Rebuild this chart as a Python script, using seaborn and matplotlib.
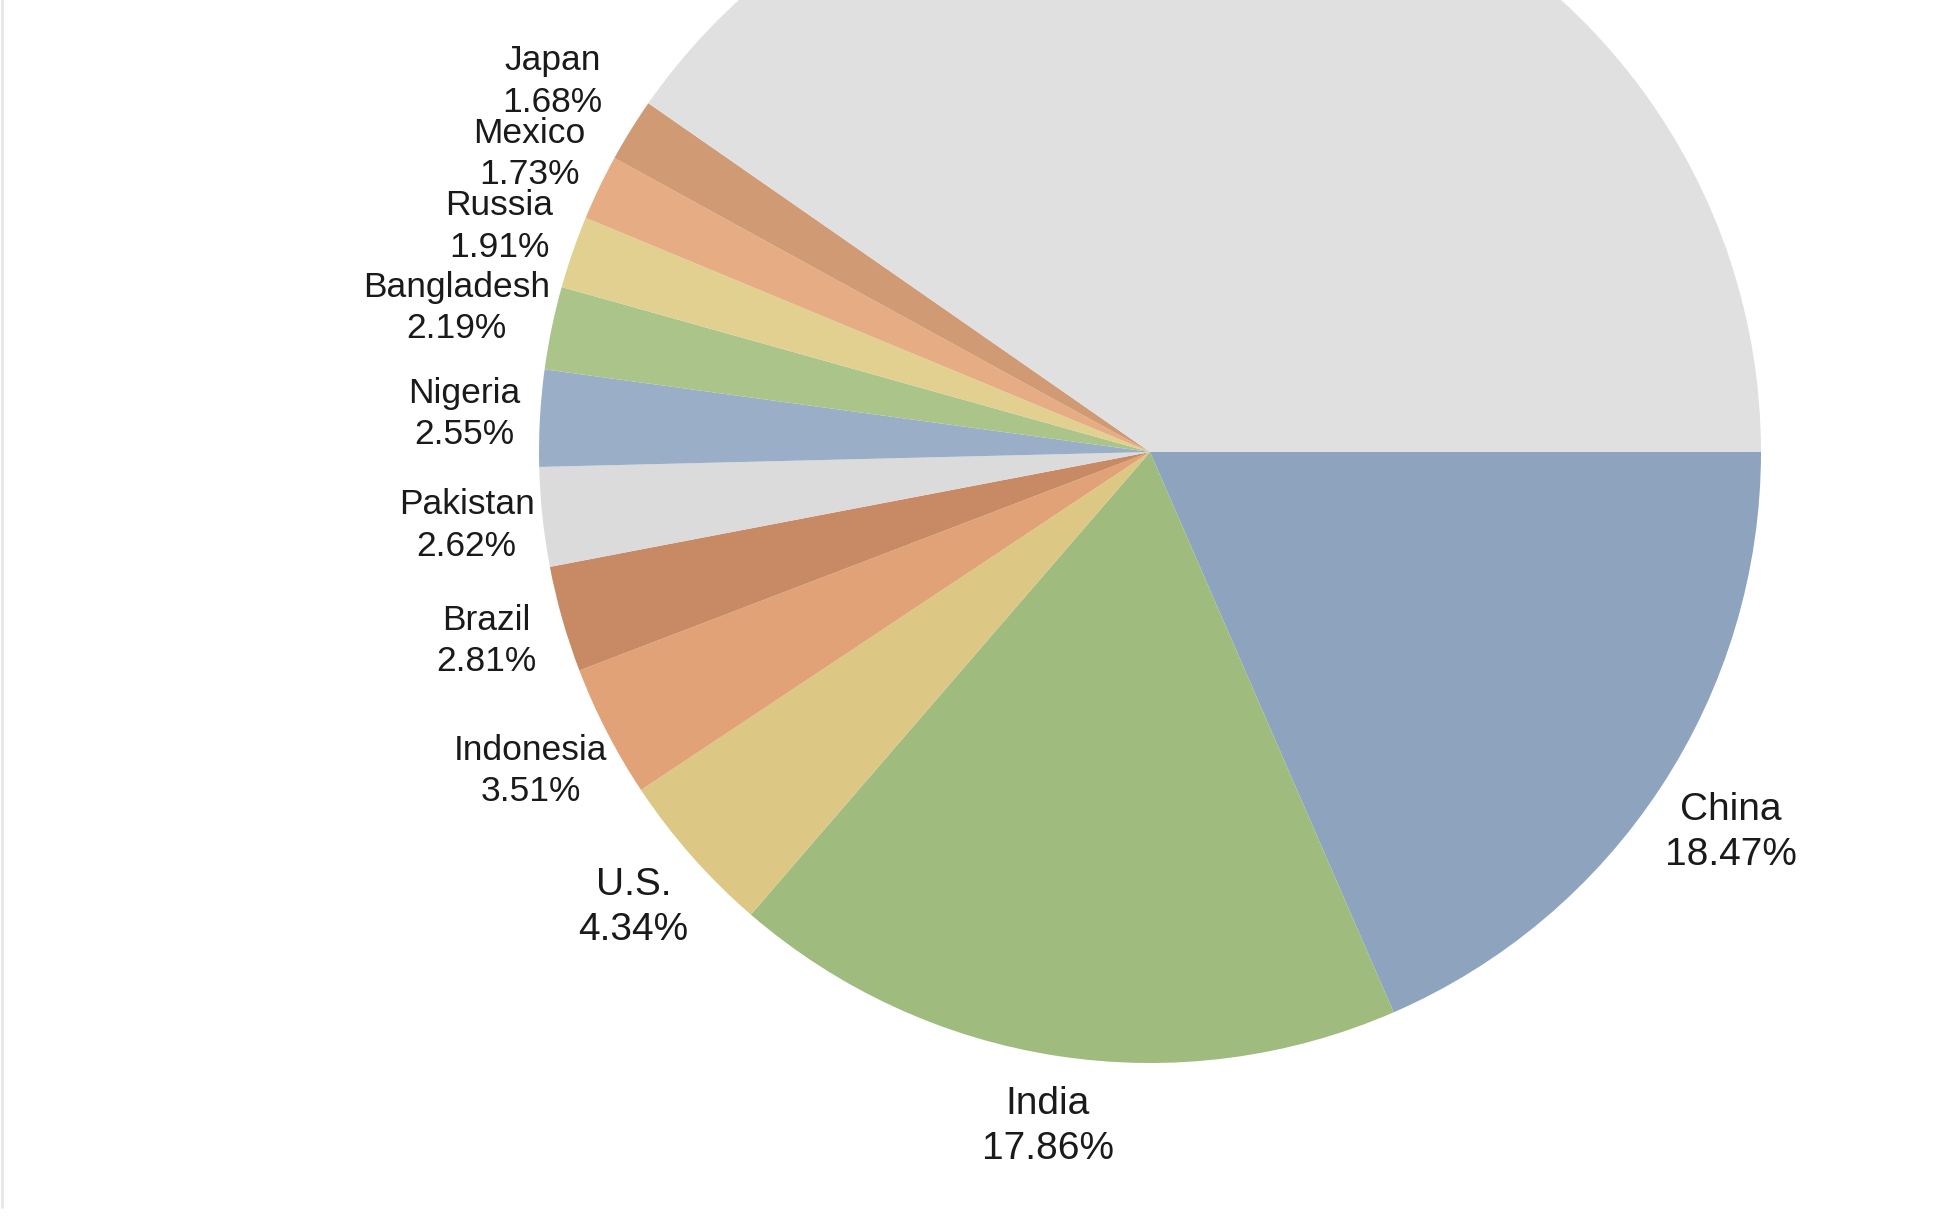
import matplotlib
matplotlib.use("Agg")
import numpy as np
import matplotlib.pyplot as plt
from matplotlib.lines import Line2D
import seaborn as sns

# ---- data ----
countries = ["China", "India", "U.S.", "Indonesia", "Brazil", "Pakistan",
             "Nigeria", "Bangladesh", "Russia", "Mexico", "Japan", ""]
shares = [18.47, 17.86, 4.34, 3.51, 2.81, 2.62, 2.55, 2.19, 1.91, 1.73, 1.68, 40.33]

# ---- styles ----
colors = ["#8DA3BE", "#9FBB7D", "#DCC884", "#E2A277", "#C88A65", "#DBDBDB",
          "#9AAFC7", "#AAC48A", "#E1D090", "#E6AD85", "#D09A75", "#E0E0E0"]
label_sizes = [28, 28, 28, 25.5, 25.5, 25.5, 25.5, 25.5, 25.5, 25.5, 25.5, 25.5]
label_dist = [1.137, 1.116, 1.127, 1.14, 1.13, 1.125, 1.124, 1.159, 1.127, 1.127, 1.151, 1.1]

sns.set_theme(style="white")
plt.rcParams["font.family"] = ["Liberation Sans", "DejaVu Sans"]

W, H, DPI = 1936, 1218, 100
fig = plt.figure(figsize=(W / DPI, H / DPI), dpi=DPI)
ax = fig.add_axes([0, 0, 1, 1])

labels = [f"{c}\n{v:.2f}%" if c else "" for c, v in zip(countries, shares)]
wedges, texts = ax.pie(shares, labels=labels, colors=colors, startangle=0,
                       counterclock=False, labeldistance=1.13,
                       wedgeprops=dict(linewidth=0, antialiased=True),
                       textprops=dict(color="#1a1a1a"))
for w, t, s, d in zip(wedges, texts, label_sizes, label_dist):
    mid = np.deg2rad((w.theta1 + w.theta2) / 2)
    t.set_position((d * np.cos(mid), d * np.sin(mid)))
    t.set_ha("center")
    t.set_va("center")
    t.set_fontsize(s)
    t.set_linespacing(1.33)

# pie centre at (1150, 452) px, radius 611 px
cx, cy, R = 1150, 452, 611
ax.set_aspect("auto")
ax.set_xlim(-cx / R, (W - cx) / R)
ax.set_ylim(-(H - cy) / R, cy / R)
ax.axis("off")

fig.add_artist(Line2D([0.0008, 0.0008], [(H - 1207) / H, 1.0],
                      transform=fig.transFigure, color="#e6e6e6", lw=2))

fig.savefig("out.png", dpi=DPI, facecolor="white")
